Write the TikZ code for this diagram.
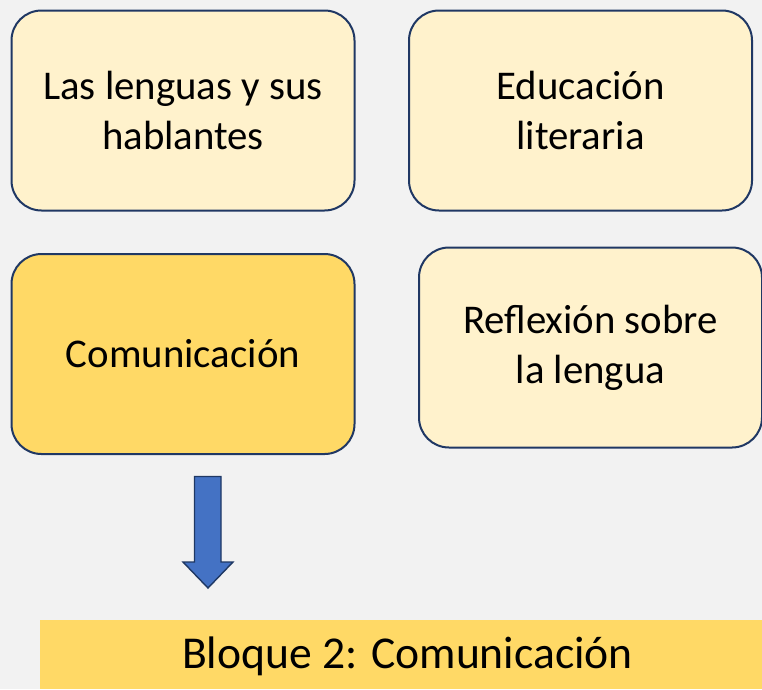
\documentclass[tikz,border=0pt]{standalone}
\usepackage{fontspec}
\setmainfont{Carlito}
\definecolor{pagebg}{HTML}{F2F2F2}
\definecolor{paleyellow}{HTML}{FFF2CC}
\definecolor{goldyellow}{HTML}{FFD966}
\definecolor{navyline}{HTML}{203864}
\definecolor{arrowblue}{HTML}{4472C4}
\definecolor{arrowline}{HTML}{1F3864}
\tikzset{
  block/.style={draw=navyline, line width=2pt, rounded corners=30pt,
    fill=paleyellow, minimum width=343pt, minimum height=200pt,
    align=center, font=\fontsize{40.8}{50}\selectfont},
  activeblock/.style={block, fill=goldyellow},
}
\begin{document}
\begin{tikzpicture}[x=1pt,y=-1pt]
\useasboundingbox (0,0) rectangle (762,689);
\fill[pagebg] (0,0) rectangle (762,689);
% the four blocks
\node[block]       (lenguas)    at (183,110.5)   {Las lenguas y sus\\hablantes};
\node[block]       (literaria)  at (580.5,110.5) {Educaci\'on\\literaria};
\node[activeblock] (comunica)   at (183,354)     {Comunicaci\'on};
\node[block]       (reflexion)  at (590.5,347.5) {Reflexi\'on sobre\\la lengua};
% down arrow
\draw[fill=arrowblue, draw=arrowline, line width=1.4pt, line join=miter]
  (194.5,476.5) -- (221,476.5) -- (221,562) -- (233,562) -- (208,588)
  -- (183,562) -- (194.5,562) -- cycle;
% bottom bar
\fill[goldyellow] (40,620) rectangle (762,689);
\node[font=\fontsize{45.6}{50}\selectfont] (bloque) at (407.5,656)
  {Bloque 2: Comunicaci\'on};
\end{tikzpicture}
\end{document}
